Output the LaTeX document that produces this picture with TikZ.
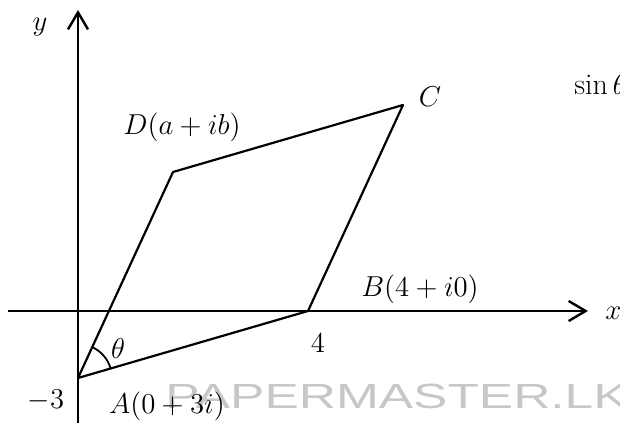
\documentclass[tikz,border=0pt]{standalone}
\usepackage{fontspec}
\usepackage{amsmath}
\usetikzlibrary{arrows.meta, calc, positioning}
\newfontfamily\wmfont{Liberation Sans}

\begin{document}
\begin{tikzpicture}[x=0.5pt, y=0.5pt,
    axis/.style={line width=1.2pt, -{Straight Barb[length=8.5pt,width=10pt]}},
    side/.style={line width=1.1pt, line join=round},
    lbl/.style={inner sep=0pt, font=\fontsize{15pt}{17pt}\selectfont}]
\useasboundingbox (0,0) rectangle (620,423);

% corners of the parallelogram
\coordinate (O) at (78,112);
\coordinate (A) at (78,45);
\coordinate (B) at (308,112);
\coordinate (D) at (173,251);
\coordinate (C) at ($(B)+(D)-(A)$);
% axis ends
\coordinate (xs) at (8,112);
\coordinate (xe) at (588,112);
\coordinate (ys) at (78,0);
\coordinate (ye) at (78,413);

\node[anchor=base west, inner sep=0pt, text=black!22] (wm) at (165,15)
    {\wmfont\fontsize{17.5pt}{20pt}\selectfont\scalebox{1.47}[1]{PAPERMASTER.LK}};

\draw[axis] (xs) -- (xe);
\draw[axis] (ys) -- (ye);

\draw[side] (A) -- (B) -- (C) -- (D) -- cycle;
\draw[line width=0.9pt] ($(A)!17pt!(B)$) arc[start angle=16.24, end angle=65.24, radius=17pt];

\node[lbl] (ylab) at (40,396) {$y$};
\node[lbl, anchor=west] (xlab) at (605,110) {$x$};
\node[lbl] (Dlab) at (182,296) {$D(a+ib)$};
\node[lbl] (Clab) at (430,326) {$C$};
\node[lbl, anchor=west] (sinth) at (574,338) {$\sin\theta$};
\node[lbl] (Blab) at (420,134) {$B(4+i0)$};
\node[lbl] (four) at (318,80) {$4$};
\node[lbl] (th) at (118,75) {$\theta$};
\node[lbl] (mthree) at (46,23) {$-3$};
\node[lbl] (Alab) at (167,17) {$A(0+3i)$};
\end{tikzpicture}
\end{document}
